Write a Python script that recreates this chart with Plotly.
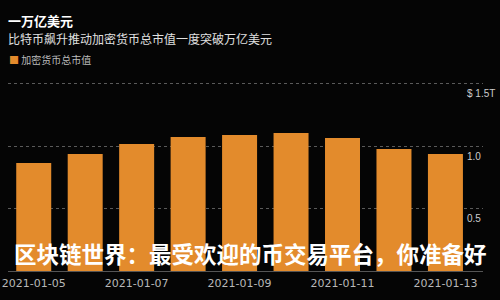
import plotly.graph_objects as go

dates = ["2021-01-05", "2021-01-06", "2021-01-07", "2021-01-08", "2021-01-09",
         "2021-01-10", "2021-01-11", "2021-01-12", "2021-01-13"]
market_cap_T = [0.864, 0.936, 1.016, 1.072, 1.088, 1.104, 1.064, 0.976, 0.936]
tick_vals = [0.5, 1.0, 1.5]
tick_text = ["0.5", "1.0", "$ 1.5T"]
x_tick_labels = ["2021-01-05", "2021-01-07", "2021-01-09", "2021-01-11", "2021-01-13"]

title = "一万亿美元"
subtitle = "比特币飙升推动加密货币总市值一度突破万亿美元"
series_name = "加密货币总市值"
overlay = "区块链世界：最受欢迎的币交易平台，你准备好"

font = "Noto Sans CJK SC"
orange = "#E38B2C"
bg = "#050505"

fig = go.Figure()
fig.add_trace(go.Bar(x=list(range(len(dates))), y=market_cap_T, name=series_name,
                     marker=dict(color=orange, line=dict(width=0))))

fig.update_layout(
    width=500, height=300,
    paper_bgcolor=bg, plot_bgcolor=bg,
    margin=dict(l=8, r=17, t=68, b=29),
    bargap=0.32,
    showlegend=False,
    font=dict(family=font, color="#bbbbbb"),
    xaxis=dict(range=[-0.5, 8.73], tickmode="array", automargin=False,
               tickvals=[dates.index(d) for d in x_tick_labels], ticktext=x_tick_labels,
               showgrid=False, zeroline=False, showline=False, ticks="",
               ticklabelstandoff=4,
               tickfont=dict(size=11, color="#b8b8b8", family="DejaVu Sans")),
    yaxis=dict(range=[0, 1.624], side="right", tickmode="array", automargin=False,
               tickvals=tick_vals, ticktext=tick_text,
               showgrid=True, gridcolor="#5a5a5a", griddash="dot", gridwidth=1,
               zeroline=True, zerolinecolor="#555555", zerolinewidth=1,
               showline=False, ticks="",
               ticklabelshift=10, ticklabelstandoff=-17,
               tickfont=dict(size=10, color="#cccccc", family="Liberation Sans")),
)

fig.add_annotation(xref="paper", yref="paper", x=0, y=1, xanchor="left", yanchor="middle",
                   yshift=68 - 20.5, xshift=-2, text="<b>" + title + "</b>", showarrow=False,
                   font=dict(size=13, color="#ffffff", family=font))
fig.add_annotation(xref="paper", yref="paper", x=0, y=1, xanchor="left", yanchor="middle",
                   yshift=68 - 38, xshift=-2, text=subtitle, showarrow=False,
                   font=dict(size=12, color="#e0e0e0", family=font))
fig.add_annotation(xref="paper", yref="paper", x=0, y=1, xanchor="left", yanchor="middle",
                   yshift=68 - 59, xshift=-1,
                   text="<span style='color:%s'>■</span> %s" % (orange, series_name),
                   showarrow=False, font=dict(size=10, color="#bbbbbb", family=font))
fig.add_annotation(xref="paper", yref="paper", x=(250 - 8) / 475, y=0, xanchor="center", yanchor="middle",
                   yshift=271 - 253, text="<b>" + overlay + "</b>", showarrow=False,
                   font=dict(size=22.5, color="#ffffff", family=font))

fig.write_html("out.html")
